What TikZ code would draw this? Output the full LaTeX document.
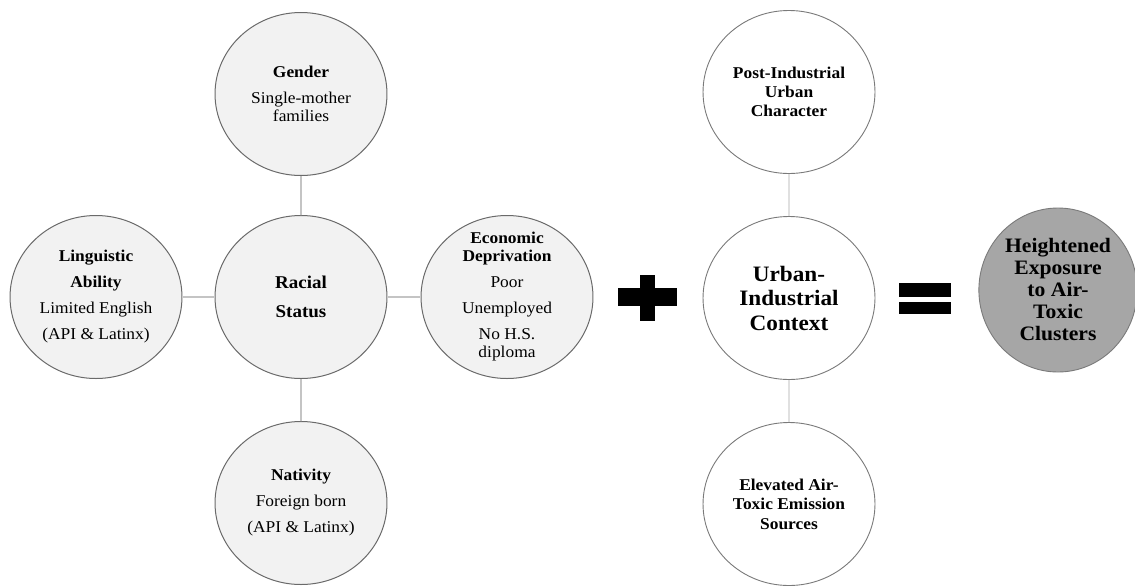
\documentclass[tikz,border=0pt]{standalone}
\usepackage{fontspec}
\setmainfont{Liberation Serif}
\usetikzlibrary{shapes.geometric}
\definecolor{lightfill}{HTML}{F2F2F2}
\definecolor{leftborder}{HTML}{6A6A6A}
\definecolor{rightborder}{HTML}{7A7A7A}
\definecolor{linkgray}{HTML}{C4C4C4}
\definecolor{rlinkgray}{HTML}{A8A8A8}
\definecolor{darkfill}{HTML}{A6A6A6}
\tikzset{
  basec/.style={circle, minimum size=163pt, inner sep=0pt, align=center,
    xscale=1.055, transform shape, font=\fontsize{16.5}{18}\selectfont},
  leftc/.style={basec, draw=leftborder, fill=lightfill, line width=1pt},
  rightc/.style={basec, draw=rightborder, fill=white, line width=0.9pt},
  leftlink/.style={draw=linkgray, line width=1.6pt},
  rightlink/.style={draw=rlinkgray, line width=0.9pt},
  symbolbar/.style={fill=black}
}
\begin{document}
\begin{tikzpicture}[x=1pt, y=-1pt]
\useasboundingbox (0,0) rectangle (1135,587);
% left group
\node[leftc] (gender) at (301,94) {\textbf{Gender}\\[8pt]Single-mother\\families};
\node[leftc, font=\fontsize{18}{20}\selectfont\bfseries] (racial) at (301,297) {Racial\\[9pt]Status};
\node[leftc] (ling) at (96,297) {\textbf{Linguistic}\\[8pt]\textbf{Ability}\\[8pt]Limited English\\[8pt](API \& Latinx)};
\node[leftc] (econ) at (507,297) {\textbf{Economic}\\\textbf{Deprivation}\\[8pt]Poor\\[8pt]Unemployed\\[8pt]No H.S.\\diploma};
\node[leftc] (nativ) at (301,503) {\textbf{Nativity}\\[8pt]Foreign born\\[8pt](API \& Latinx)};
\draw[leftlink] (gender) -- (racial);
\draw[leftlink] (nativ) -- (racial);
\draw[leftlink] (ling) -- (racial);
\draw[leftlink] (econ) -- (racial);
% plus
\fill[symbolbar] (618,288) rectangle (677,306);
\fill[symbolbar] (640,275) rectangle (655,321);
% right group
\node[rightc, font=\fontsize{16.5}{19}\selectfont\bfseries] (post) at (789,92) {Post-Industrial\\Urban\\Character};
\node[rightc, font=\fontsize{22}{24.5}\selectfont\bfseries] (urban) at (789,298) {Urban-\\Industrial\\Context};
\node[rightc, font=\fontsize{16.5}{19.5}\selectfont\bfseries] (elev) at (789,504) {Elevated Air-\\Toxic Emission\\Sources};
\draw[rightlink] (post) -- (urban);
\draw[rightlink] (elev) -- (urban);
% equals
\fill[symbolbar] (899,283) rectangle (951,297);
\fill[symbolbar] (899,302) rectangle (951,314);
% result
\node[ellipse, minimum width=150pt, minimum height=164pt, inner sep=0pt, align=center,
  xscale=1.055, transform shape, draw=rightborder, fill=darkfill, line width=0.9pt,
  font=\fontsize{20.5}{22}\selectfont\bfseries] (result) at (1058,290)
  {Heightened\\Exposure\\to Air-\\Toxic\\Clusters};
\end{tikzpicture}
\end{document}
